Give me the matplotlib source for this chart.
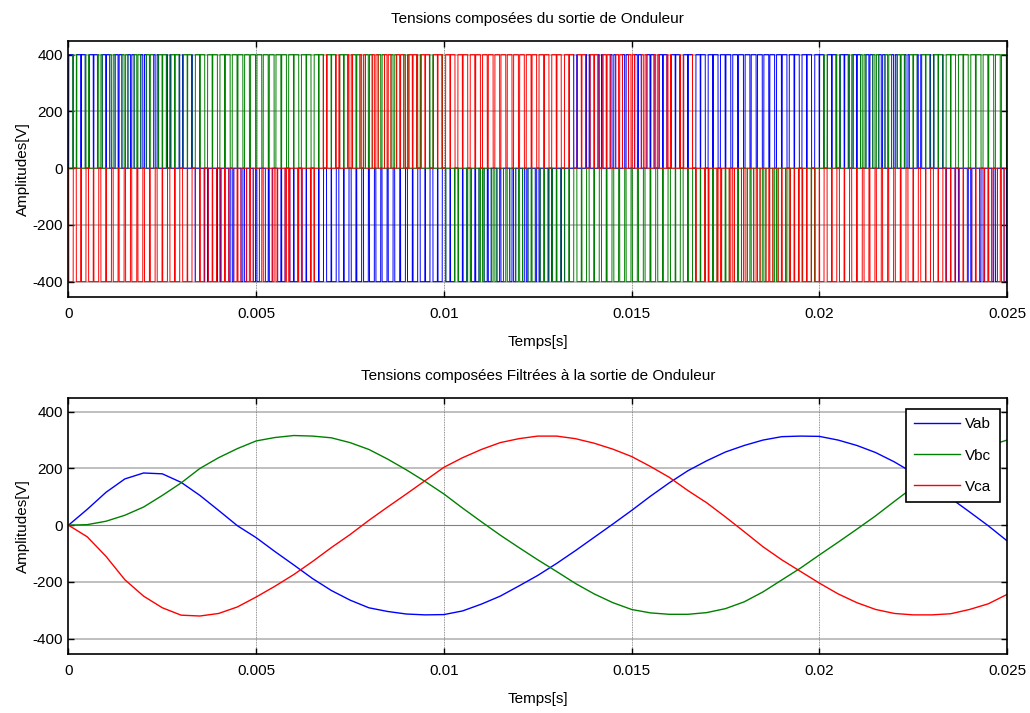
import numpy as np
import matplotlib
matplotlib.use('Agg')
import matplotlib.pyplot as plt

plt.rcParams['font.family'] = ['Liberation Sans', 'DejaVu Sans']
plt.rcParams['font.size'] = 11
plt.rcParams['axes.unicode_minus'] = False

# filtered line voltages, every 0.5 ms
t_ms = np.arange(0, 25.5, 0.5)
vab = [0, 56, 116, 163, 184, 181, 151, 105, 52, -2,
       -44, -93, -140, -188, -230, -264, -291, -304, -313, -316,
       -315, -302, -278, -250, -214, -177, -135, -90, -43, 4,
       52, 102, 149, 192, 227, 258, 281, 300, 312, 314,
       313, 300, 281, 256, 223, 184, 142, 95, 47, -2,
       -55]
vbc = [0, 2, 14, 35, 64, 105, 149, 200, 238, 270,
       297, 309, 316, 314, 308, 291, 267, 233, 195, 154,
       110, 60, 12, -35, -79, -122, -163, -205, -242, -273,
       -297, -309, -314, -314, -308, -294, -270, -235, -193, -151,
       -105, -60, -14, 33, 84, 134, 180, 221, 256, 279,
       300]
vca = [0, -41, -110, -192, -250, -291, -317, -320, -311, -288,
       -253, -215, -174, -128, -79, -33, 17, 64, 110, 157,
       204, 238, 267, 291, 305, 314, 314, 305, 289, 268,
       242, 207, 169, 122, 79, 29, -23, -76, -122, -163,
       -204, -242, -273, -297, -311, -316, -316, -312, -297, -277,
       -244]

labels = ['Vab', 'Vbc', 'Vca']
colors = ['#0000ff', '#008000', '#ff0000']

# inverter settings
vdc = 400            # pulse height
f_carrier = 3000     # ~0.17 ms between pulses -> two pulses per carrier period
lead_ms = 1.15       # PWM reference leads the filtered output
win_start, period_ms = 5.0, 20.0   # steady-state window of the filtered data

# PWM of the inverter: phase references rebuilt from the line voltages
t_fine = np.arange(0, 25.0, 0.0005)
tau = win_start + (t_fine + lead_ms - win_start) % period_ms
ref_ab = np.interp(tau, t_ms, vab)
ref_bc = np.interp(tau, t_ms, vbc)
ref_ca = np.interp(tau, t_ms, vca)
va = (ref_ab - ref_ca) / 3 / (vdc / 2)
vb = (ref_bc - ref_ab) / 3 / (vdc / 2)
vc = (ref_ca - ref_bc) / 3 / (vdc / 2)
phase = (t_fine * 1e-3 * f_carrier) % 1
carrier = 4 * np.abs(phase - 0.5) - 1
sa = (va > carrier).astype(float)
sb = (vb > carrier).astype(float)
sc = (vc > carrier).astype(float)
pwm = [vdc * (sa - sb), vdc * (sb - sc), vdc * (sc - sa)]

fig = plt.figure(figsize=(10.3, 7.13), dpi=100)
ax1 = fig.add_axes([0.0665, 0.5835, 0.9112, 0.359])
ax2 = fig.add_axes([0.0665, 0.0827, 0.9112, 0.359])


def matlab_style(ax, title):
    ax.set_xlim(0, 0.025)
    ax.set_ylim(-454, 448)
    ax.set_xticks([0, 0.005, 0.01, 0.015, 0.02, 0.025])
    ax.set_xticklabels(['0', '0.005', '0.01', '0.015', '0.02', '0.025'])
    ax.set_yticks([-400, -200, 0, 200, 400])
    for y in [-400, -200, 200, 400]:
        ax.axhline(y, color='#b4b4b4', lw=1.2, zorder=0)
    ax.axhline(0, color='#808080', lw=0.8, zorder=0)
    for x in [0.005, 0.01, 0.015, 0.02]:
        ax.axvline(x, color='#707070', lw=0.6, ls=(0, (1, 1)), zorder=0)
    ax.tick_params(direction='in', top=True, right=True, length=4,
                   width=1, labelsize=11)
    ax.tick_params(axis='y', pad=4)
    ax.tick_params(axis='x', pad=7)
    for s in ax.spines.values():
        s.set_linewidth(1.2)
    ax.set_title(title, fontsize=11, pad=13)
    ax.set_xlabel('Temps[s]', fontsize=11, labelpad=10)
    ax.set_ylabel('Amplitudes[V]', fontsize=11, labelpad=2)


for sig, c in zip(pwm, colors):
    ax1.plot(t_fine * 1e-3, sig, color=c, lw=0.7)
matlab_style(ax1, 'Tensions composées du sortie de Onduleur')

t_s = t_ms * 1e-3
for v, c, lab in zip([vab, vbc, vca], colors, labels):
    ax2.plot(t_s, v, color=c, lw=1.0, label=lab)
matlab_style(ax2, 'Tensions composées Filtrées à la sortie de Onduleur')
leg = ax2.legend(loc='upper right', bbox_to_anchor=(0.9925, 0.957),
                 borderaxespad=0, fancybox=False, framealpha=1,
                 edgecolor='black', handlelength=3.0, handletextpad=0.35,
                 borderpad=0.55, labelspacing=1.12, fontsize=11)
leg.get_frame().set_linewidth(1.2)

fig.savefig('out.png', dpi=100)
